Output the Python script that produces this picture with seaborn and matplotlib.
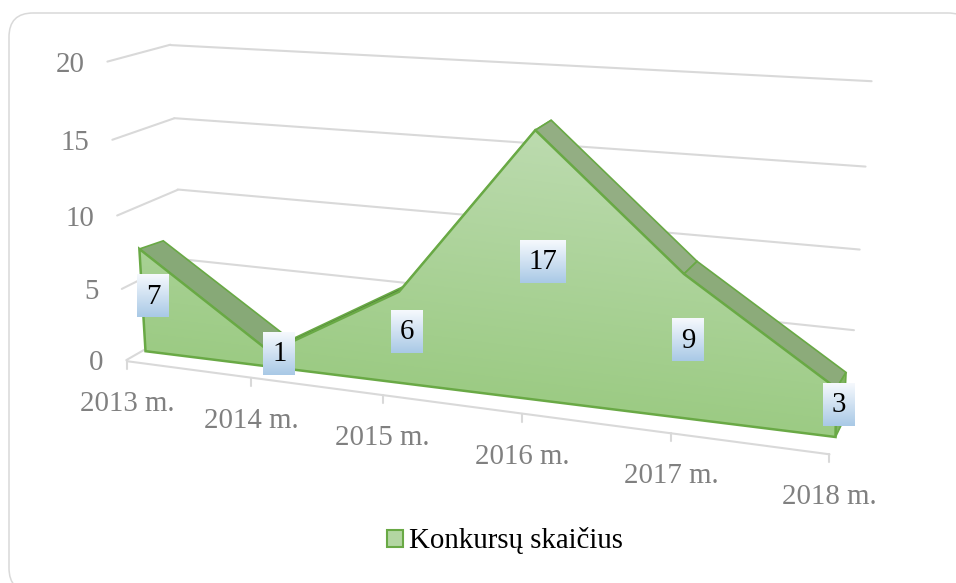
import numpy as np
import seaborn as sns
import matplotlib
matplotlib.use("Agg")
import matplotlib.pyplot as plt
from matplotlib.patches import Polygon, FancyBboxPatch, Patch
from matplotlib.transforms import Transform

# ---- chart values ----
years = ["2013 m.", "2014 m.", "2015 m.", "2016 m.", "2017 m.", "2018 m."]
konkursai = [7, 1, 6, 17, 9, 3]
y_ticks = [0, 5, 10, 15, 20]
series_name = "Konkursų skaičius"


# ---- 3D look: each plane of the box is a projective scale (data -> pixels) ----
def homography(src, dst):
    A, b = [], []
    for (x, y), (X, Y) in zip(src, dst):
        A.append([x, y, 1, 0, 0, 0, -X * x, -X * y]); b.append(X)
        A.append([0, 0, 0, x, y, 1, -Y * x, -Y * y]); b.append(Y)
    h = np.linalg.solve(np.array(A, float), np.array(b, float))
    return np.append(h, 1).reshape(3, 3)


class Plane(Transform):
    input_dims = output_dims = 2

    def __init__(self, src, dst):
        super().__init__()
        self.H = homography(src, dst)

    def transform_non_affine(self, v):
        v = np.asarray(v, float)
        p = np.c_[v, np.ones(len(v))] @ self.H.T
        return p[:, :2] / p[:, 2:]

    def at(self, x, y):
        return self.transform_non_affine(np.array([[x, y]], float))[0]


XY = [(0, 0), (5, 0), (0, 20), (5, 20)]
WALL = Plane(XY, [(184.1, 327.1), (848.4, 408.6), (170.9, 45.1), (871.6, 81.2)])
FRONT = Plane(XY, [(145.5, 351.2), (835.5, 437.0), (127.6, 52.6), (842.0, 102.0)])
BACK = Plane(XY, [(170.6, 339.6), (843.8, 419.7), (148.9, 47.7), (859.6, 88.5)])
SIDE = Plane([(0, 0), (1, 0), (0, 20), (1, 20)],
             [(126.3, 360.1), (184.6, 326.7), (107.4, 61.6), (170.4, 44.7)])
FLOOR = Plane([(0, 0), (5, 0), (0, 1), (5, 1)],
              [(127.0, 361.2), (829.5, 454.3), (183.9, 327.6), (848.1, 409.3)])

sns.set_theme(style="white")
plt.rcParams["font.family"] = ["Liberation Serif", "DejaVu Serif"]
fig = plt.figure(figsize=(9.56, 5.83), dpi=100)
ax = fig.add_axes([0, 0, 1, 1])
ax.set_xlim(0, 956); ax.set_ylim(583, 0); ax.autoscale(False); ax.set_axis_off()

GRID = "#d9d9d9"; EDGE = "#69a945"; TICK = "#808080"; FS = 20.8
ax.add_patch(FancyBboxPatch((9, 13), 963, 579, boxstyle="round,pad=0,rounding_size=24",
                            fc="white", ec=GRID, lw=1.1, zorder=0))


def line(plane, x, y, color=GRID, lw=1.5, z=1):
    sns.lineplot(x=x, y=y, sort=False, estimator=None, errorbar=None, color=color, lw=lw,
                 zorder=z, ax=ax, legend=False, transform=plane + ax.transData)


for v in y_ticks:
    line(SIDE, [0, 1], [v, v])
    if v:
        line(WALL, [0, 5], [v, v])
line(FLOOR, [0, 5], [0, 0])

xs = np.arange(len(konkursai))
for i in xs:
    p = FLOOR.at(i, 0)
    ax.plot([p[0], p[0]], [p[1], p[1] + 8], color=GRID, lw=1.5, zorder=1)
    ax.text(p[0], p[1] + 43, years[i], ha="center", va="center", color=TICK, fontsize=FS)
for v in y_ticks:
    p = SIDE.at(0, v)
    ax.text(p[0] - 23, p[1] + 3, str(v), ha="right", va="center", color=TICK, fontsize=FS)

top = np.c_[xs, konkursai].astype(float)
ftop = FRONT.transform_non_affine(top)
btop = BACK.transform_non_affine(top)
strip_cols = ["#87a977", "#4f7a3b", "#93ae83", "#93ae83", "#8cab7a"]
for i in [2, 1, 0, 3, 4]:
    ax.add_patch(Polygon([ftop[i], ftop[i + 1], btop[i + 1], btop[i]], closed=True,
                         fc=strip_cols[i], ec=EDGE, lw=1.2, zorder=2))
ax.add_patch(Polygon([FRONT.at(xs[-1], 0), ftop[-1], btop[-1], BACK.at(xs[-1], 0)], closed=True,
                     fc="#7fb35f", ec=EDGE, lw=1.2, zorder=2))

outline = np.vstack([top, [[xs[-1], 0], [xs[0], 0]]])
poly = Polygon(outline, closed=True, fc="none", ec=EDGE, lw=1.8, zorder=4,
               transform=FRONT + ax.transData)
ax.add_patch(poly)
gx, gy = np.meshgrid(np.linspace(130, 845, 300), np.linspace(120, 445, 300))
t = np.clip((gy - (130 + 0.126 * (gx - 536))) / 269, 0, 1)[..., None]
to_rgb = matplotlib.colors.to_rgb
im = ax.imshow(np.array(to_rgb("#bcdbaf")) * (1 - t) + np.array(to_rgb("#9ccb84")) * t,
               extent=(130, 845, 445, 120), aspect="auto", zorder=3, interpolation="bilinear")
im.set_clip_path(poly)

mid = np.c_[xs, np.array(konkursai) / 2.0]
centres = (FRONT.transform_non_affine(mid) + BACK.transform_non_affine(mid)) / 2
grad = np.linspace(0, 1, 64)[:, None, None]
lab = np.array(to_rgb("#f6f9fd")) * (1 - grad) + np.array(to_rgb("#a9c9e6")) * grad
for (cx, cy), v in zip(centres, konkursai):
    cx -= 1.5
    w = 46 if v > 9 else 32
    ax.imshow(lab, extent=(cx - w / 2, cx + w / 2, cy + 21.5, cy - 21.5), aspect="auto", zorder=5,
              interpolation="bilinear")
    ax.text(cx, cy + 1, str(v), ha="center", va="center", color="black", fontsize=FS, zorder=6)
ax.set_xlim(0, 956); ax.set_ylim(583, 0)

ax.legend(handles=[Patch(fc="#b3d6a2", ec=EDGE, lw=1.5, label=series_name)], frameon=False,
          loc="center", bbox_to_anchor=(505 / 956, 1 - 541 / 583), fontsize=FS,
          handlelength=0.55, handleheight=0.55, handletextpad=0.2, labelcolor="black")
fig.savefig("out.png", dpi=100)
